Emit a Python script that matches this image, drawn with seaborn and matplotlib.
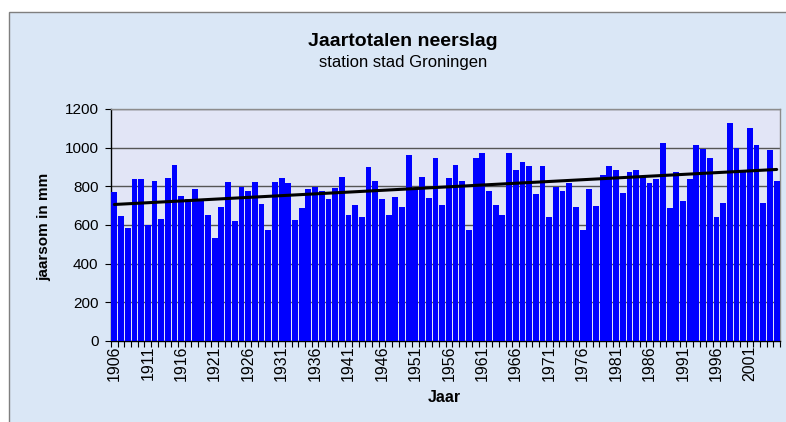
import numpy as np
import pandas as pd
import matplotlib
matplotlib.use("Agg")
import matplotlib.pyplot as plt
import seaborn as sns
from matplotlib.patches import Rectangle

years = list(range(1906, 2006))
neerslag = [
    773, 648, 583, 836, 836, 602, 830, 629, 841, 908,
    752, 732, 784, 732, 654, 531, 695, 820, 623, 799,
    778, 820, 711, 576, 820, 841, 815, 628, 690, 784,
    794, 778, 737, 789, 846, 654, 706, 643, 898, 825,
    737, 654, 747, 695, 960, 792, 846, 742, 945, 706,
    841, 908, 830, 576, 945, 971, 778, 706, 654, 971,
    887, 924, 903, 758, 903, 643, 799, 778, 815, 695,
    576, 784, 700, 861, 903, 887, 768, 872, 882, 846,
    815, 836, 1022, 690, 872, 726, 836, 1012, 991, 945,
    643, 716, 1126, 997, 877, 1100, 1012, 716, 986, 825,
]
tick_years = list(range(1906, 2006, 5))

title = "Jaartotalen neerslag"
subtitle = "station stad Groningen"
ylabel = "jaarsom in mm"
xlabel = "Jaar"

sns.set_style("white")
plt.rcParams['font.family'] = ['Liberation Sans', 'DejaVu Sans']
plt.rcParams['text.color'] = 'black'
plt.rcParams['xtick.color'] = 'black'
plt.rcParams['ytick.color'] = 'black'

W, H = 786, 422
fig = plt.figure(figsize=(W / 100, H / 100), dpi=100, facecolor="white")

# outer chart area with border
fig.patches.append(Rectangle((8.5 / W, -0.01), 1.0, 1 - 11.5 / H + 0.01,
                             transform=fig.transFigure, facecolor="#dae7f6",
                             edgecolor="#7f7f7f", linewidth=1.0, zorder=-10))

ax = fig.add_axes([111 / W, 1 - 341 / H, (780 - 111) / W, (341 - 109) / H])
ax.set_facecolor("#e2e5f6")

df = pd.DataFrame({"jaar": [str(y) for y in years], "mm": neerslag})
sns.barplot(data=df, x="jaar", y="mm", color="#0000ff", saturation=1,
            width=0.87, ax=ax, zorder=3, linewidth=0)

# linear trend line
xs = np.arange(len(years))
coef = np.polyfit(xs, neerslag, 1)
ax.plot(xs, np.polyval(coef, xs), color="black", linewidth=2.2, zorder=4)

ax.set_xlim(-0.5, len(years) - 0.5)
ax.set_ylim(0, 1200)
ax.set_yticks(range(0, 1201, 200))
ax.yaxis.grid(True, color="#555555", linewidth=1.0, zorder=0)
ax.set_axisbelow(True)

tick_pos = [years.index(y) for y in tick_years]
ax.set_xticks(tick_pos)
ax.set_xticklabels([str(y) for y in tick_years], rotation=90, fontsize=11.5)
ax.set_xticks(np.arange(-0.5, len(years), 1), minor=True)
ax.tick_params(axis="x", which="major", length=0, pad=3)
ax.tick_params(axis="x", which="minor", length=4, width=0.8, color="black", direction="out")
ax.tick_params(axis="y", length=4, width=0.8, color="black", direction="out", labelsize=11, pad=5)
ax.yaxis.set_ticks_position("left")
ax.xaxis.set_ticks_position("bottom")

for s in ["left", "bottom"]:
    ax.spines[s].set_color("black")
    ax.spines[s].set_linewidth(1.0)
for s in ["top", "right"]:
    ax.spines[s].set_color("#8c8c8c")
    ax.spines[s].set_linewidth(1.0)

ax.set_xlabel("")
ax.set_ylabel("")

fig.text(403 / W, 1 - 42 / H, title, ha="center", va="center",
         fontsize=14, fontweight="bold")
fig.text(403 / W, 1 - 62 / H, subtitle, ha="center", va="center", fontsize=12)
fig.text(44 / W, 1 - 227 / H, ylabel, ha="center", va="center",
         rotation=90, fontsize=11, fontweight="bold")
fig.text(444 / W, 1 - 398 / H, xlabel, ha="center", va="center",
         fontsize=11.5, fontweight="bold")

fig.savefig("out.png", dpi=100, facecolor="white")
